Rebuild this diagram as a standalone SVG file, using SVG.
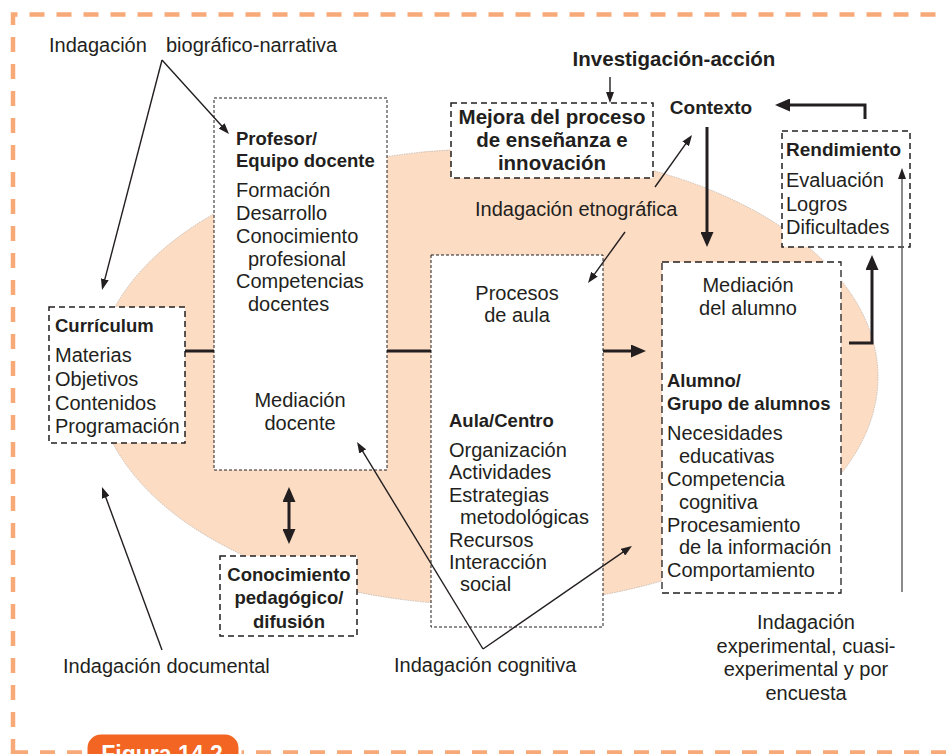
<svg xmlns="http://www.w3.org/2000/svg" width="946" height="754" viewBox="0 0 946 754">
<defs>
<style>
text{font-family:"Liberation Sans",Arial,sans-serif;fill:#231f20}
.r{font-size:20px}
.b{font-size:18.5px;font-weight:bold}
.h{font-size:20.5px;font-weight:bold}
.c{text-anchor:middle}
.box{fill:#fff;stroke:#231f20}
.dot{stroke-width:1;stroke-dasharray:3 2}
.dash{stroke-width:1.5;stroke-dasharray:6 4}
.dash2{stroke-width:1.3;stroke-dasharray:7 4}
.thick{fill:none;stroke:#231f20;stroke-width:3}
.thin{fill:none;stroke:#231f20;stroke-width:1.4}
.border{fill:none;stroke:#F7A978;stroke-width:4.5;stroke-dasharray:15 12}
</style>
<marker id="big" viewBox="0 0 15 13" refX="11" refY="6.5" markerWidth="15" markerHeight="13" markerUnits="userSpaceOnUse" orient="auto-start-reverse"><path d="M0,0L15,6.5L0,13z" fill="#231f20"/></marker>
<marker id="sm" viewBox="0 0 11 8" refX="8" refY="4" markerWidth="11" markerHeight="8" markerUnits="userSpaceOnUse" orient="auto"><path d="M0,0L11,4L0,8z" fill="#231f20"/></marker>
</defs>
<rect width="946" height="754" fill="#fff"/>
<path class="border" d="M13,754 V14.5 H946"/>
<path class="border" d="M13,752.5 H946"/>
<g id="figura">
<path d="M86,756 V748 a15,15 0 0 1 15,-15 H225 a15,15 0 0 1 15,15 V756z" fill="#F26522" stroke="#fff" stroke-width="3"/>
<text x="162" y="762" class="c" style="font-size:23px;font-weight:bold;fill:#fff">Figura 14.2</text>
</g>
<ellipse cx="487" cy="377" rx="391" ry="228" fill="#FCDCC3" stroke="#A9A29C" stroke-width="0.6" stroke-dasharray="1.5 1"/>

<g id="curriculum">
<rect class="box dash" x="49" y="307" width="136" height="136"/>
<text class="b" x="55" y="332">Currículum</text>
<text class="r" x="55" y="362">Materias</text>
<text class="r" x="55" y="386">Objetivos</text>
<text class="r" x="55" y="410">Contenidos</text>
<text class="r" x="55" y="433">Programación</text>
</g>
<g id="profesor">
<rect class="box dot" x="214" y="98" width="173" height="372"/>
<text class="b" x="236" y="145">Profesor/</text>
<text class="b" x="236" y="167">Equipo docente</text>
<text class="r" x="236" y="197">Formación</text>
<text class="r" x="236" y="220">Desarrollo</text>
<text class="r" x="236" y="243">Conocimiento</text>
<text class="r" x="248" y="266">profesional</text>
<text class="r" x="236" y="288">Competencias</text>
<text class="r" x="248" y="311">docentes</text>
<text class="r c" x="300" y="407">Mediación</text>
<text class="r c" x="300" y="430">docente</text>
</g>
<g id="mejora">
<rect class="box dash" x="451" y="103" width="202" height="75"/>
<text class="h c" x="552" y="124">Mejora del proceso</text>
<text class="h c" x="552" y="147">de enseñanza e</text>
<text class="h c" x="552" y="170">innovación</text>
</g>
<g id="investigacion">
<text class="h c" x="674" y="66">Investigación-acción</text>
</g>
<g id="contexto">
<text x="711" y="114" class="c" style="font-size:19px;font-weight:bold">Contexto</text>
</g>
<g id="rendimiento">
<rect class="box dash" x="782" y="131" width="128" height="116"/>
<text x="786" y="156" style="font-size:19px;font-weight:bold">Rendimiento</text>
<text class="r" x="786" y="187">Evaluación</text>
<text class="r" x="786" y="211">Logros</text>
<text class="r" x="786" y="234">Dificultades</text>
</g>
<g id="aula">
<rect class="box dot" x="431" y="255" width="172" height="372"/>
<text class="r c" x="517" y="300">Procesos</text>
<text class="r c" x="517" y="322">de aula</text>
<text class="b" x="449" y="427">Aula/Centro</text>
<text class="r" x="449" y="457">Organización</text>
<text class="r" x="449" y="479">Actividades</text>
<text class="r" x="449" y="502">Estrategias</text>
<text class="r" x="460" y="524">metodológicas</text>
<text class="r" x="449" y="547">Recursos</text>
<text class="r" x="449" y="569">Interacción</text>
<text class="r" x="460" y="591">social</text>
</g>
<g id="alumno">
<rect class="box dash2" x="662" y="262" width="179" height="331"/>
<text class="r c" x="748" y="292">Mediación</text>
<text class="r c" x="748" y="315">del alumno</text>
<text class="b" x="667" y="387">Alumno/</text>
<text class="b" x="667" y="410">Grupo de alumnos</text>
<text class="r" x="667" y="440">Necesidades</text>
<text class="r" x="679" y="463">educativas</text>
<text class="r" x="667" y="486">Competencia</text>
<text class="r" x="679" y="509">cognitiva</text>
<text class="r" x="667" y="532">Procesamiento</text>
<text class="r" x="679" y="554">de la información</text>
<text class="r" x="667" y="577">Comportamiento</text>
</g>
<g id="conocimiento">
<rect class="box dash" x="220" y="556" width="137" height="80"/>
<text class="b c" x="289" y="581">Conocimiento</text>
<text class="b c" x="289" y="604">pedagógico/</text>
<text class="b c" x="289" y="628">difusión</text>
</g>
<g id="ind-biografica">
<text class="r" y="52"><tspan x="49">Indagación</tspan><tspan x="166">biográfico-narrativa</tspan></text>
</g>
<g id="ind-etnografica">
<text class="r" x="475" y="216">Indagación etnográfica</text>
</g>
<g id="ind-documental">
<text class="r" x="63" y="673">Indagación documental</text>
</g>
<g id="ind-cognitiva">
<text class="r" x="394" y="672">Indagación cognitiva</text>
</g>
<g id="ind-experimental">
<text class="r c" x="806" y="629">Indagación</text>
<text class="r c" x="806" y="653">experimental, cuasi-</text>
<text class="r c" x="806" y="676">experimental y por</text>
<text class="r c" x="806" y="700">encuesta</text>
</g>

<g id="connectors">
<path class="thin" d="M162,60 L102.8,287.1" marker-end="url(#sm)"/>
<path class="thin" d="M162,60 L227,131.8" marker-end="url(#sm)"/>
<path class="thin" d="M162,650 L103,489.8" marker-end="url(#sm)"/>
<path class="thin" d="M483,649 L629.5,547.7" marker-end="url(#sm)"/>
<path class="thin" d="M483,649 L358.6,444.6" marker-end="url(#sm)"/>
<path class="thin" d="M655,187 L690.3,137.4" marker-end="url(#sm)"/>
<path class="thin" d="M625,232 L589.8,280.6" marker-end="url(#sm)"/>
<path class="thin" d="M610,77 V100" marker-end="url(#sm)"/>
<path class="thin" d="M902,592 V171" stroke="#5a5a5a" style="stroke:#5a5a5a" marker-end="url(#sm)"/>
<path class="thick" d="M707,127 V243" marker-end="url(#big)"/>
<path class="thick" d="M865,119 V105 H779" marker-end="url(#big)"/>
<path class="thick" d="M603,351 H642" marker-end="url(#big)"/>
<path class="thick" d="M849,343 H872 V259" marker-end="url(#big)"/>
<path class="thick" d="M289,491 V540" marker-start="url(#big)" marker-end="url(#big)"/>
<path class="thick" d="M185,351 H214"/>
<path class="thick" d="M387,351 H431"/>
</g>
</svg>
